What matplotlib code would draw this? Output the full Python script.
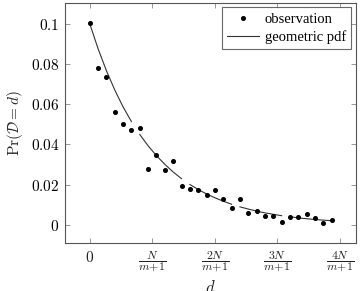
import matplotlib
matplotlib.use("Agg")
import matplotlib.pyplot as plt
import numpy as np

plt.rcParams['mathtext.fontset'] = 'cm'
plt.rcParams['font.family'] = ['Liberation Serif', 'DejaVu Serif']

# x positions in units of N/(m+1)
obs_x = [i * 2 / 15 for i in range(30)]
obs_y = [0.1005, 0.0780, 0.0736, 0.0562, 0.0502, 0.0473,
         0.0481, 0.0278, 0.0345, 0.0271, 0.0316, 0.0195,
         0.0180, 0.0172, 0.0150, 0.0172, 0.0127, 0.0083,
         0.0127, 0.0061, 0.0068, 0.0045, 0.0046, 0.0015,
         0.0038, 0.0038, 0.0053, 0.0036, 0.0008, 0.0023]
# fitted geometric pdf read at the same positions (drawn in 5 pieces)
pdf_y = [0.1000, 0.0875, 0.0766, 0.0670, 0.0586, 0.0513,
         0.0449, 0.0393, 0.0344, 0.0301, 0.0263, 0.0230,
         0.0201, 0.0176, 0.0154, 0.0135, 0.0118, 0.0103,
         0.0090, 0.0079, 0.0069, 0.0060, 0.0053, 0.0046,
         0.0041, 0.0035, 0.0031, 0.0027, 0.0024, 0.0021]
segments = [(0, 6), (6, 12), (12, 18), (18, 24), (24, 30)]

xticks = [0, 1, 2, 3, 4]
xticklabels = [r'$0$', r'$\dfrac{N}{m\!+\!1}$', r'$\dfrac{2N}{m\!+\!1}$',
               r'$\dfrac{3N}{m\!+\!1}$', r'$\dfrac{4N}{m\!+\!1}$']
yticks = [0, 0.02, 0.04, 0.06, 0.08, 0.1]
yticklabels = [r'$0$', r'$0.02$', r'$0.04$', r'$0.06$', r'$0.08$', r'$0.1$']

fig = plt.figure(figsize=(3.61, 2.91), dpi=100)
ax = fig.add_axes([65 / 361, 1 - 243.3 / 291, (355.7 - 65) / 361, (243.3 - 3) / 291])

for i, (a, b) in enumerate(segments):
    ax.plot(obs_x[a:b], pdf_y[a:b], color='#333333', lw=0.8,
            label='geometric pdf' if i == 0 else None, zorder=2)
ax.plot(obs_x, obs_y, 'o', color='black', ms=2.6, label='observation', zorder=3,
        linestyle='none')

ax.set_xlim(-0.395, 4.25)
ax.set_ylim(-0.0091, 0.1102)
ax.set_xticks(xticks)
ax.set_xticklabels(xticklabels, fontsize=8.5)
ax.get_xticklabels()[0].set_fontsize(11)
ax.set_yticks(yticks)
ax.set_yticklabels(yticklabels, fontsize=11)
ax.tick_params(direction='in', top=True, right=True, length=3.5, width=0.6,
               color='#888888', pad=4)
ax.tick_params(axis='x', pad=5)
for lab in ax.get_xticklabels():
    lab.set_color('#222222')
    lab.set_verticalalignment('top')
for s in ax.spines.values():
    s.set_color('#555555')
    s.set_linewidth(0.8)

ax.set_ylabel(r'$\Pr(\mathcal{D} = d)$', fontsize=11, color='#222222', labelpad=4)
ax.set_xlabel(r'$d$', fontsize=12, color='#222222', labelpad=4)

handles, labels = ax.get_legend_handles_labels()
order = [labels.index('observation'), labels.index('geometric pdf')]
leg = ax.legend([handles[i] for i in order], [labels[i] for i in order],
                loc='upper right', fontsize=10.5, frameon=True, fancybox=False,
                borderaxespad=0.3, handlelength=2.2, handletextpad=0.4,
                borderpad=0.35, labelspacing=0.3)
leg.get_frame().set_edgecolor('#444444')
leg.get_frame().set_linewidth(0.8)

fig.savefig('out.png', dpi=100)
